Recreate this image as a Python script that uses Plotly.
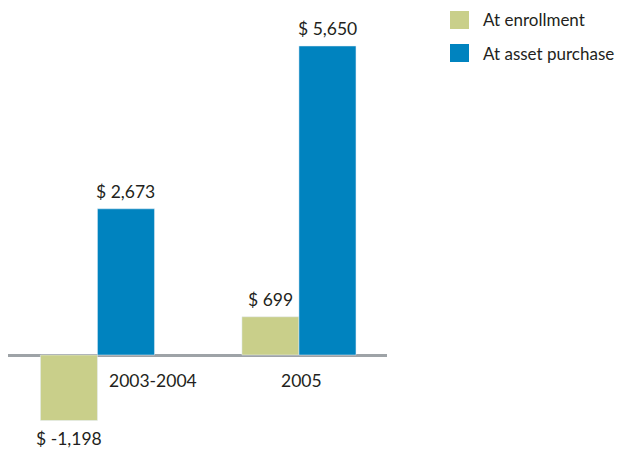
import plotly.graph_objects as go

categories = ["2003-2004", "2005"]
series_names = ["At enrollment", "At asset purchase"]
enrollment = [-1198, 699]
asset_purchase = [2673, 5650]

GREEN = "#c9cf8a"
BLUE = "#0083bf"
TEXT = "#231f20"
FONT = "Lato, Roboto, sans-serif"
FS = 17.5

xs = [0, 1]
bw = 0.283

# page body has an 8px margin -> figure drawn at (8, 8)
OFF = 8
W, H = 628 - OFF, 452 - OFF
PX0, PX1 = 8, 387       # plot area in window pixels (x)
PY0, PY1 = 10, 442      # plot area in window pixels (y)
L = PX0 - OFF
R = W - (PX1 - OFF)
T = PY0 - OFF
B = H - (PY1 - OFF)
pw, ph = PX1 - PX0, PY1 - PY0
def px(x): return (x - PX0) / pw
def py(y): return (PY1 - y) / ph

fig = go.Figure()
fig.add_trace(go.Bar(x=xs, y=enrollment, name=series_names[0], marker_color=GREEN,
                     width=bw, offset=-bw, showlegend=False))
fig.add_trace(go.Bar(x=xs, y=asset_purchase, name=series_names[1], marker_color=BLUE,
                     width=bw, offset=0, showlegend=False))

annotations = []
for vals, off in [(enrollment, -bw / 2), (asset_purchase, bw / 2)]:
    for x, v in zip(xs, vals):
        annotations.append(dict(
            x=x + off, y=v, xref="x", yref="y", text=f"$ {v:,}", showarrow=False,
            yanchor="bottom" if v >= 0 else "top", yshift=5 if v >= 0 else -5,
            font=dict(size=FS, color=TEXT, family=FONT)))

# category labels
annotations.append(dict(x=0, y=0, xref="x", yref="y", text=categories[0], showarrow=False,
                        xanchor="left", yanchor="top", xshift=10, yshift=-13,
                        font=dict(size=FS, color=TEXT, family=FONT)))
annotations.append(dict(x=1, y=0, xref="x", yref="y", text=categories[1], showarrow=False,
                        xanchor="center", yanchor="top", xshift=3, yshift=-13,
                        font=dict(size=FS, color=TEXT, family=FONT)))

# manual legend
shapes = []
for i, (name, col) in enumerate(zip(series_names, [GREEN, BLUE])):
    y0 = 11 + i * 33
    shapes.append(dict(type="rect", xref="paper", yref="paper",
                       x0=px(450), x1=px(469), y0=py(y0 + 18), y1=py(y0),
                       fillcolor=col, line=dict(width=0)))
    annotations.append(dict(x=px(481), y=py(y0 + 9), xref="paper", yref="paper",
                            text=name, showarrow=False, xanchor="left", yanchor="middle",
                            font=dict(size=17, color=TEXT, family=FONT)))

scale = 309 / 5650
zero_y = 355
ytop = (zero_y - PY0) / scale
ybot = -(PY1 - zero_y) / scale

fig.update_layout(
    width=W, height=H,
    margin=dict(l=L, r=R, t=T, b=B, pad=0),
    paper_bgcolor="white", plot_bgcolor="white",
    xaxis=dict(range=[-0.444, 1.437], showticklabels=False, showgrid=False,
               zeroline=False, showline=False, ticks=""),
    yaxis=dict(range=[ybot, ytop], showticklabels=False, showgrid=False,
               zeroline=True, zerolinecolor="#9ea3a7", zerolinewidth=3,
               showline=False, ticks=""),
    annotations=annotations, shapes=shapes,
    font=dict(family=FONT, color=TEXT),
)

fig.write_html("out.html")
